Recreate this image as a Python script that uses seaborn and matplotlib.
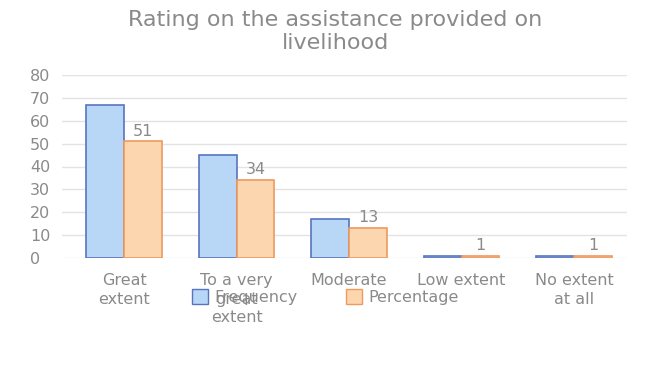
import matplotlib
matplotlib.use("Agg")
import matplotlib.pyplot as plt
import seaborn as sns
import pandas as pd
from matplotlib.patches import Patch

categories = ["Great\nextent", "To a very\ngreat\nextent", "Moderate", "Low extent", "No extent\nat all"]
frequency = [67, 45, 17, 1, 1]
percentage = [51, 34, 13, 1, 1]
series_names = ["Frequency", "Percentage"]

df = pd.DataFrame({
    "Category": categories * 2,
    "Value": frequency + percentage,
    "Series": [series_names[0]] * len(categories) + [series_names[1]] * len(categories),
})

sns.set_theme(style="white")
plt.rcParams["font.family"] = ["DejaVu Sans"]

fill_colors = {"Frequency": "#B8D6F6", "Percentage": "#FCD6AE"}
edge_colors = {"Frequency": "#5874C0", "Percentage": "#EE9A5E"}
text_gray = "#8A8A8A"

fig = plt.figure(figsize=(6.48, 3.83), dpi=100)
ax = fig.add_axes([62 / 648, 1 - 258 / 383, 565 / 648, 183 / 383])

sns.barplot(data=df, x="Category", y="Value", hue="Series", palette=fill_colors,
            width=0.67, gap=0, ax=ax, legend=False, saturation=1)

for container, name in zip(ax.containers, series_names):
    for bar in container:
        bar.set_edgecolor(edge_colors[name])
        bar.set_linewidth(1.2)
    if name == "Percentage":
        ax.bar_label(container, labels=[str(v) for v in percentage], padding=2,
                     color=text_gray, fontsize=11.5)

ax.set_xlim(-0.551, 4.47)
ax.set_ylim(0, 80)
ax.set_yticks(range(0, 81, 10))
ax.yaxis.grid(True, color="#E3E3E3", linewidth=1)
ax.set_axisbelow(True)
for s in ax.spines.values():
    s.set_visible(False)
ax.set_xlabel("")
ax.set_ylabel("")
ax.tick_params(axis="both", length=0, colors=text_gray, labelsize=11.5)
ax.tick_params(axis="y", pad=23)
ax.tick_params(axis="x", pad=11)
for lab in ax.get_yticklabels():
    lab.set_horizontalalignment("left")
for lab in ax.get_xticklabels():
    lab.set_linespacing(1.3)

fig.suptitle("Rating on the assistance provided on\nlivelihood", x=0.517, y=0.975,
             fontsize=16, color="#8A8A8A", linespacing=1.2)

handles = [Patch(facecolor=fill_colors[n], edgecolor=edge_colors[n], label=n) for n in series_names]
fig.legend(handles=handles, loc="center", bbox_to_anchor=(0.502, 0.224), ncol=2,
           frameon=False, fontsize=11.5, labelcolor=text_gray, handlelength=1.0,
           handleheight=1.0, columnspacing=3.0, handletextpad=0.4)

fig.savefig("out.png", dpi=100, facecolor="white")
